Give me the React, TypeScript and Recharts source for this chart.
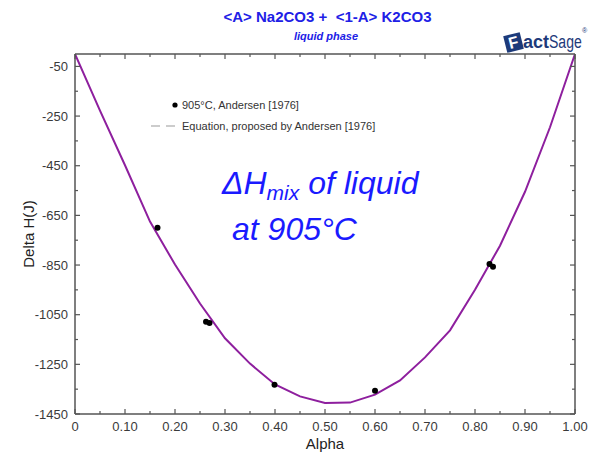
import { ComposedChart, Legend, Line, Scatter, XAxis, YAxis } from "recharts";

// Equation curve (Andersen)
const curveAlpha = [0, 0.05, 0.1, 0.15, 0.2, 0.25, 0.3, 0.35, 0.4, 0.45, 0.5, 0.55, 0.6, 0.65, 0.7, 0.75, 0.8, 0.85, 0.9, 0.95, 1.0];
const curveDeltaH = [0, -228, -448, -675, -848, -1005, -1145, -1247, -1331, -1379, -1406, -1404, -1372, -1315, -1222, -1113, -950, -772, -555, -295, 0];

// measured points, 905°C
const pointAlpha = [0.165, 0.262, 0.269, 0.399, 0.6, 0.829, 0.836];
const pointDeltaH = [-700, -1078, -1083, -1332, -1356, -846, -857];

const xTicks = [0, 0.05, 0.1, 0.15, 0.2, 0.25, 0.3, 0.35, 0.4, 0.45, 0.5, 0.55, 0.6, 0.65, 0.7, 0.75, 0.8, 0.85, 0.9, 0.95, 1.0];
const xMajor = [0, 0.1, 0.2, 0.3, 0.4, 0.5, 0.6, 0.7, 0.8, 0.9, 1.0];
const xLabels = ["0", "0.10", "0.20", "0.30", "0.40", "0.50", "0.60", "0.70", "0.80", "0.90", "1.00"];
const yTicks = [-1450, -1350, -1250, -1150, -1050, -950, -850, -750, -650, -550, -450, -350, -250, -150, -50];
const yMajor = [-1450, -1250, -1050, -850, -650, -450, -250, -50];

const curve = curveAlpha.map((a, i) => ({ alpha: a, dh: curveDeltaH[i] }));
const points = pointAlpha.map((a, i) => ({ alpha: a, dh: pointDeltaH[i] }));

const FRAME = "#555";
const TICK_TEXT = "#3a3a3a";
const FONT = "'Liberation Sans', Arial, sans-serif";

const majorIndex = (list: number[], v: number) => list.findIndex((m) => Math.abs(m - v) < 1e-6);

const xTick = (side: "bottom" | "top") => (props: any) => {
  const { x, y, payload } = props;
  const idx = majorIndex(xMajor, payload.value);
  const len = idx >= 0 ? 5 : 3;
  const dir = side === "bottom" ? -1 : 1;
  return (
    <g>
      <line x1={x} y1={y} x2={x} y2={y + dir * len} stroke={FRAME} strokeWidth={1.2} />
      {side === "bottom" && idx >= 0 && (
        <text x={x} y={y + 17} textAnchor="middle" fontSize={13} fill={TICK_TEXT} fontFamily={FONT}>
          {xLabels[idx]}
        </text>
      )}
    </g>
  );
};

const yTick = (side: "left" | "right") => (props: any) => {
  const { x, y, payload } = props;
  const idx = majorIndex(yMajor, payload.value);
  const len = idx >= 0 ? 5 : 3;
  const dir = side === "left" ? 1 : -1;
  return (
    <g>
      <line x1={x} y1={y} x2={x + dir * len} y2={y} stroke={FRAME} strokeWidth={1.2} />
      {side === "left" && idx >= 0 && (
        <text x={x - 7} y={y + 4.5} textAnchor="end" fontSize={13} fill={TICK_TEXT} fontFamily={FONT}>
          {String(payload.value)}
        </text>
      )}
    </g>
  );
};

const LegendBox = ({ payload }: any) => {
  const items = [...(payload || [])].sort((a: any) => (a.type === "circle" ? -1 : 1));
  return (
    <div style={{ fontFamily: FONT, fontSize: 11, color: "#333" }}>
      {items.map((entry: any) => (
        <div key={entry.value} style={{ display: "flex", alignItems: "center", height: 21 }}>
          <svg width={32} height={10}>
            {entry.type === "circle" ? (
              <circle cx={25} cy={5} r={2.6} fill="#000" />
            ) : (
              <line x1={1} y1={5} x2={26} y2={5} stroke="#999" strokeWidth={1.2} strokeDasharray="9 6" />
            )}
          </svg>
          <span>{entry.value}</span>
        </div>
      ))}
    </div>
  );
};

export default function App() {
  return (
    <div style={{ position: "absolute", left: 0, top: 0, width: 600, height: 454, background: "#fff", fontFamily: FONT }}>
      <div style={{ position: "absolute", left: 0, width: 655, top: 8, textAlign: "center", fontSize: 15, fontWeight: "bold", color: "#2020e6", whiteSpace: "pre" }}>
        {"<A> Na2CO3 +  <1-A> K2CO3"}
      </div>
      <div style={{ position: "absolute", left: 0, width: 652, top: 30, textAlign: "center", fontSize: 11, fontWeight: "bold", fontStyle: "italic", color: "#2020e6" }}>
        liquid phase
      </div>
      <div style={{ position: "absolute", left: 505, top: 25, height: 26, display: "flex", alignItems: "flex-end", color: "#1d3a7a" }}>
        <div style={{ width: 17, height: 17, background: "#1d3a7a", transform: "rotate(-14deg)", color: "#fff", fontWeight: 900, fontSize: 16, lineHeight: "17px", textAlign: "center", marginRight: 1 }}>F</div>
        <span style={{ fontWeight: 900, fontSize: 18, lineHeight: "18px" }}>act</span>
        <span style={{ fontSize: 18, lineHeight: "18px", display: "inline-block", transform: "scaleX(0.78)", transformOrigin: "left", width: 33 }}>Sage</span>
        <span style={{ fontSize: 7, alignSelf: "flex-start", marginTop: 2 }}>®</span>
      </div>

      <ComposedChart width={600} height={454} margin={{ top: 53, right: 24, bottom: 0, left: 0 }}>
        <XAxis
          xAxisId="b"
          type="number"
          dataKey="alpha"
          domain={[0, 1]}
          allowDataOverflow
          ticks={xTicks}
          interval={0}
          height={40}
          tickSize={0}
          tickMargin={0}
          tickLine={false}
          axisLine={{ stroke: FRAME, strokeWidth: 1.5 }}
          tick={xTick("bottom")}
          label={{ value: "Alpha", position: "insideBottom", offset: 5, fontSize: 15, fill: "#222", fontFamily: FONT }}
        />
        <XAxis
          xAxisId="t"
          orientation="top"
          type="number"
          dataKey="alpha"
          domain={[0, 1]}
          allowDataOverflow
          ticks={xTicks}
          interval={0}
          height={1}
          tickSize={0}
          tickMargin={0}
          tickLine={false}
          axisLine={{ stroke: FRAME, strokeWidth: 1.5 }}
          tick={xTick("top")}
        />
        <YAxis
          yAxisId="l"
          type="number"
          dataKey="dh"
          domain={[-1450, 0]}
          allowDataOverflow
          ticks={yTicks}
          interval={0}
          width={75}
          tickSize={0}
          tickMargin={0}
          tickLine={false}
          axisLine={{ stroke: FRAME, strokeWidth: 1.5 }}
          tick={yTick("left")}
          label={{ value: "Delta H(J)", angle: -90, position: "insideLeft", offset: 29, fontSize: 15, fill: "#222", fontFamily: FONT, style: { textAnchor: "middle" } }}
        />
        <YAxis
          yAxisId="r"
          orientation="right"
          type="number"
          dataKey="dh"
          domain={[-1450, 0]}
          allowDataOverflow
          ticks={yTicks}
          interval={0}
          width={1}
          tickSize={0}
          tickMargin={0}
          tickLine={false}
          axisLine={{ stroke: FRAME, strokeWidth: 1.5 }}
          tick={yTick("right")}
        />
        <Legend
          layout="vertical"
          align="center"
          verticalAlign="middle"
          wrapperStyle={{ left: 150, top: 94, width: 240 }}
          content={LegendBox}
        />
        <Line
          xAxisId="b"
          yAxisId="l"
          data={curve}
          dataKey="dh"
          name="Equation, proposed by Andersen [1976]"
          type="linear"
          stroke="#8e1f9e"
          strokeWidth={2}
          dot={false}
          activeDot={false}
          legendType="line"
          isAnimationActive={false}
        />
        <Scatter
          xAxisId="b"
          yAxisId="l"
          data={points}
          dataKey="dh"
          name="905°C, Andersen [1976]"
          legendType="circle"
          fill="#000"
          shape={(p: any) => <circle cx={p.cx} cy={p.cy} r={3} fill="#000" />}
          isAnimationActive={false}
        />
      </ComposedChart>

      <div style={{ position: "absolute", left: 222, top: 165, fontSize: 32, fontStyle: "italic", color: "#1a1aff", lineHeight: "36px", whiteSpace: "nowrap" }}>
        ΔH<sub style={{ fontSize: 21, verticalAlign: "-6px" }}>mix</sub> of liquid
        <br />
        <span style={{ marginLeft: 10 }}>at 905°C</span>
      </div>
    </div>
  );
}
